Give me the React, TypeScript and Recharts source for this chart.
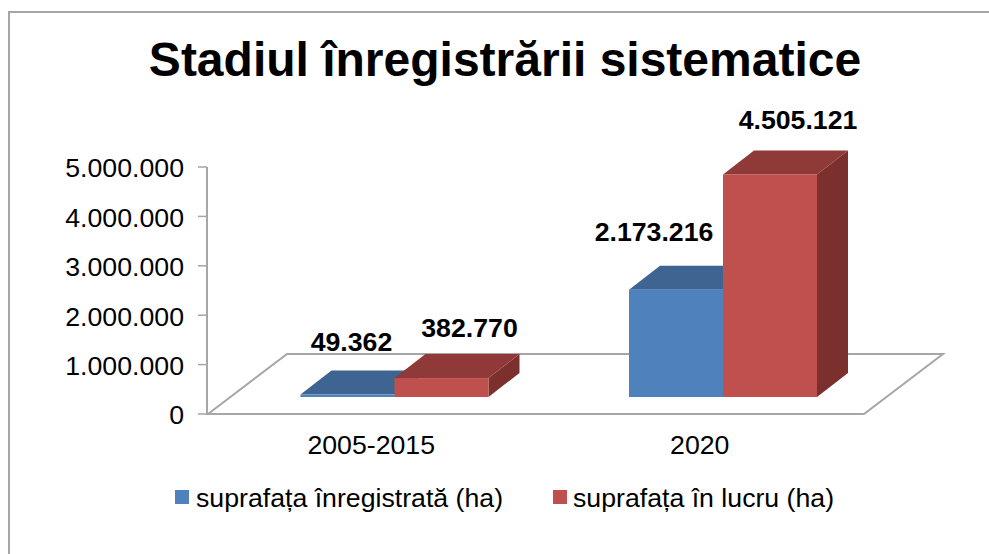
import React from "react";
import { BarChart, Bar, XAxis, YAxis, Legend, LabelList, usePlotArea } from "recharts";

const categories = ["2005-2015", "2020"];
const registered = [49362, 2173216];
const inProgress = [382770, 4505121];
const yTicks = [0, 1000000, 2000000, 3000000, 4000000, 5000000];
const titleText = "Stadiul înregistrării sistematice";
const seriesNames = ["suprafața înregistrată (ha)", "suprafața în lucru (ha)"];

const rows = categories.map((category, i) => ({
  category,
  registered: registered[i],
  inProgress: inProgress[i],
}));

const FONT = "'Liberation Sans', Arial, sans-serif";
const BLUE = { front: "#4f81bd", top: "#3e6592", side: "#345479" };
const RED = { front: "#c0504d", top: "#8f3a38", side: "#7c302e" };
const AXIS = "#a6a6a6";
const SHIFT_X = 23.5;
const SHIFT_Y = -17;
const DEPTH_X = 31;
const DEPTH_Y = -24;

const formatDots = (v: number) => String(v).replace(/\B(?=(\d{3})+$)/g, ".");

const Box = (colors: typeof BLUE) => (props: any) => {
  const x = props.x + SHIFT_X;
  const y = props.y + SHIFT_Y;
  const w = props.width;
  const h = props.height;
  return (
    <g>
      <polygon
        points={`${x + w},${y} ${x + w + DEPTH_X},${y + DEPTH_Y} ${x + w + DEPTH_X},${y + h + DEPTH_Y} ${x + w},${y + h}`}
        fill={colors.side}
      />
      <polygon
        points={`${x},${y} ${x + DEPTH_X},${y + DEPTH_Y} ${x + w + DEPTH_X},${y + DEPTH_Y} ${x + w},${y}`}
        fill={colors.top}
      />
      <rect x={x} y={y} width={w} height={h} fill={colors.front} />
    </g>
  );
};

const Floor = () => {
  const plot = usePlotArea();
  if (!plot) return null;
  const left = plot.x + 1;
  const right = plot.x + plot.width;
  const bottom = plot.y + plot.height;
  const points = [
    [left, bottom],
    [left + 79, bottom - 60],
    [right + 79, bottom - 60],
    [right, bottom],
  ]
    .map((p) => p.join(","))
    .join(" ");
  return <polygon points={points} fill="#ffffff" stroke={AXIS} strokeWidth={2} />;
};

// Hand-placed label offsets, relative to each bar's centre and top.
const nudgeRegistered = [
  [4, -53],
  [-22, -58],
];
const nudgeProgress = [
  [28, -50],
  [28, -54],
];

const DataLabel = (nudges: number[][]) => (props: any) => {
  const { x, y, width, index, value } = props;
  const [dx, dy] = nudges[index];
  return (
    <text
      x={x + SHIFT_X + width / 2 + dx}
      y={y + SHIFT_Y + dy}
      textAnchor="middle"
      dominantBaseline="central"
      fontFamily={FONT}
      fontSize={26.7}
      fontWeight="bold"
      fill="#000"
    >
      {formatDots(value)}
    </text>
  );
};

const LegendBox = () => (
  <div style={{ position: "relative", width: 989, height: 0 }}>
    {seriesNames.map((name, i) => (
      <React.Fragment key={name}>
        <div
          style={{
            position: "absolute",
            left: i === 0 ? 175 : 553,
            top: 490,
            width: 14,
            height: 14,
            background: i === 0 ? BLUE.front : RED.front,
          }}
        />
        <div
          style={{
            position: "absolute",
            left: i === 0 ? 196 : 573,
            top: 484,
            fontFamily: FONT,
            fontSize: 26.7,
            lineHeight: "28px",
            whiteSpace: "nowrap",
            color: "#000",
          }}
        >
          {name}
        </div>
      </React.Fragment>
    ))}
  </div>
);

export default function App() {
  return (
    <div style={{ position: "absolute", left: 0, top: 0, width: 989, height: 554, background: "#fff", overflow: "hidden" }}>
      <div style={{ position: "absolute", left: 8, top: 11, width: 981, height: 543, borderLeft: "2px solid #a6a6a6", borderTop: "2px solid #a6a6a6" }} />
      <div
        style={{
          position: "absolute",
          left: 0,
          width: 1010,
          top: 32,
          textAlign: "center",
          fontFamily: FONT,
          fontWeight: "bold",
          fontSize: 48,
          lineHeight: "56px",
          color: "#000",
          whiteSpace: "nowrap",
        }}
      >
        {titleText}
      </div>
      <div style={{ position: "absolute", left: 0, top: 0 }}>
        <BarChart
          width={989}
          height={554}
          data={rows}
          margin={{ top: 167, right: 125, bottom: 110, left: 0 }}
          barSize={94}
          barGap={0}
          style={{ background: "transparent" }}
        >
          <Floor />
          <XAxis
            dataKey="category"
            axisLine={false}
            tickLine={false}
            height={30}
            tick={{ fontFamily: FONT, fontSize: 26.7, fill: "#000" }}
            tickMargin={15}
          />
          <YAxis
            width={207}
            domain={[0, 5000000]}
            ticks={yTicks}
            interval={0}
            tickFormatter={formatDots}
            stroke={AXIS}
            axisLine={{ stroke: AXIS, strokeWidth: 2 }}
            tickLine={{ stroke: AXIS, strokeWidth: 1.5 }}
            tickSize={9}
            tickMargin={14}
            tick={{ fontFamily: FONT, fontSize: 26.7, fill: "#000", dy: 1 }}
          />
          <Legend content={<LegendBox />} height={0} wrapperStyle={{ left: 0, top: 0, bottom: "auto", width: 989 }} />
          <Bar dataKey="registered" name={seriesNames[0]} shape={Box(BLUE)} isAnimationActive={false}>
            <LabelList dataKey="registered" content={DataLabel(nudgeRegistered)} />
          </Bar>
          <Bar dataKey="inProgress" name={seriesNames[1]} shape={Box(RED)} isAnimationActive={false}>
            <LabelList dataKey="inProgress" content={DataLabel(nudgeProgress)} />
          </Bar>
        </BarChart>
      </div>
    </div>
  );
}
